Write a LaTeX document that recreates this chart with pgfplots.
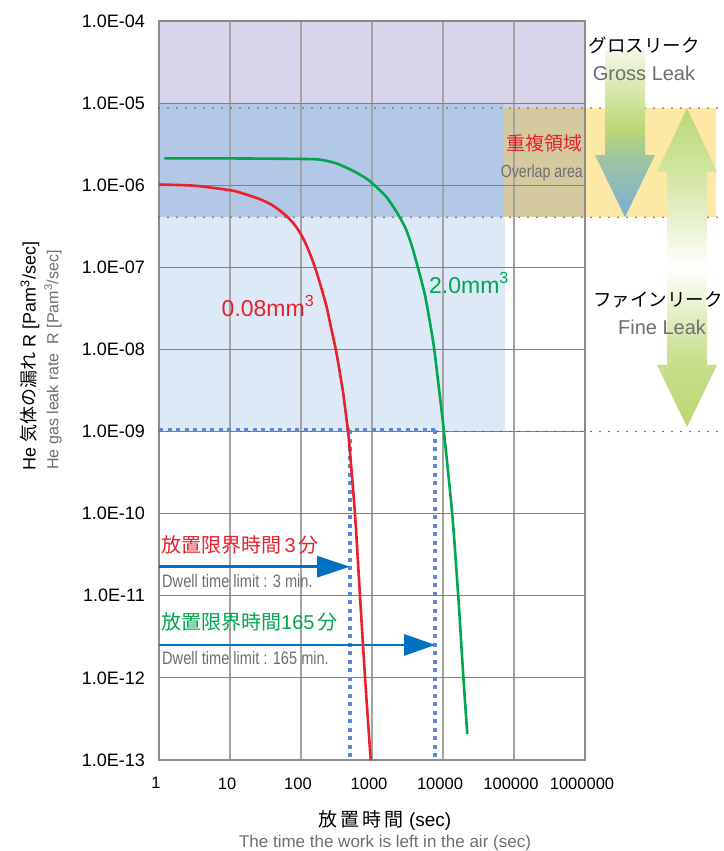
\documentclass[border=0pt]{standalone}
\usepackage{pgfplots}
\pgfplotsset{compat=1.18}
\usepackage{fontspec}
\setmainfont{Liberation Sans}
\newfontfamily\cjk{Noto Sans CJK JP}
\newfontfamily\narrow[FakeStretch=0.81]{Liberation Sans}
\usetikzlibrary{arrows.meta}
\definecolor{cred}{HTML}{E8212B}
\definecolor{cgreen}{HTML}{00A650}
\definecolor{tgray}{HTML}{6D6E71}
\definecolor{gridgray}{HTML}{8C8C8C}
\definecolor{bandpurple}{HTML}{D8D4E9}
\definecolor{bandblue}{HTML}{B3C7E6}
\definecolor{bandlight}{HTML}{DEE9F8}
\definecolor{bandtan}{HTML}{D5C9A0}
\definecolor{bandyellow}{HTML}{FDE9A6}
\definecolor{dotblue}{HTML}{5B88CF}
\definecolor{arrowblue}{HTML}{0070C0}
\definecolor{leafgreen}{HTML}{BCD773}
\definecolor{tipblue}{HTML}{78AFD8}
\definecolor{headgray}{HTML}{A2C79C}
\pgfdeclareverticalshading{grossshade}{100bp}{color(0bp)=(tipblue); color(25bp)=(tipblue); color(44bp)=(headgray); color(51bp)=(leafgreen); color(75bp)=(leafgreen!18); color(100bp)=(leafgreen!18)}
\pgfdeclareverticalshading{fineshade}{100bp}{color(0bp)=(leafgreen); color(25bp)=(leafgreen); color(36bp)=(leafgreen!80); color(50bp)=(white); color(63bp)=(leafgreen!60); color(75bp)=(leafgreen); color(100bp)=(leafgreen)}
\newcommand{\fs}[1]{\fontsize{#1}{#1}\selectfont}
\begin{document}
\begin{tikzpicture}[x=1pt,y=1pt]
\begin{axis}[
  at={(159pt,91pt)}, anchor=south west,
  scale only axis, width=426pt, height=739pt,
  xmode=log, ymode=log,
  xmin=1, xmax=1e6, ymin=1e-13, ymax=1e-4,
  xtick={1,10,100,1000,10000,100000,1000000},
  xticklabels={1,10,100,1000,10000,100000,1000000},
  ytick={1e-13,1e-12,1e-11,1e-10,1e-9,1e-8,1e-7,1e-6,1e-5,1e-4},
  yticklabels={1.0E-13,1.0E-12,1.0E-11,1.0E-10,1.0E-09,1.0E-08,1.0E-07,1.0E-06,1.0E-05,1.0E-04},
  xminorticks=false, yminorticks=false,
  major tick length=0pt,
  grid=major,
  x grid style={draw=gridgray!80, line width=1.3pt},
  y grid style={draw=gridgray!110, line width=1.1pt},
  axis line style={draw=gridgray, line width=1.4pt},
  xticklabel style={font=\fs{16.5}, text=black, yshift=-14pt, xshift=-3pt},
  yticklabel style={font=\fs{18}, text=black, inner xsep=0pt, xshift=-14pt},
  clip=false, set layers,
]
\begin{pgfonlayer}{axis background}
  \fill[bandpurple] (axis cs:1,1e-5) rectangle (axis cs:1e6,1e-4);
  \fill[bandpurple!70!bandblue] (axis cs:73000,8.7e-6) rectangle (axis cs:1e6,1e-5);
  \fill[bandblue] (axis cs:1,4.07e-7) rectangle (axis cs:73000,1e-5);
  \fill[bandtan] (axis cs:73000,4.07e-7) rectangle (axis cs:1e6,8.7e-6);
  \fill[bandyellow] (axis cs:1e6,4.07e-7) rectangle (axis cs:7e7,8.7e-6);
  \fill[bandlight] (axis cs:1,1e-9) rectangle (axis cs:75000,4.07e-7);
\end{pgfonlayer}
% dotted reference lines
\draw[black!65, line width=1.8pt, line cap=round, dash pattern=on 0pt off 9pt] (axis cs:1,8.7e-6) -- (axis cs:8.7e7,8.7e-6);
\draw[black!65, line width=1.8pt, line cap=round, dash pattern=on 0pt off 9pt] (axis cs:1,4.07e-7) -- (axis cs:8.7e7,4.07e-7);
\draw[black!65, line width=1.8pt, line cap=round, dash pattern=on 0pt off 9pt] (axis cs:1,1e-9) -- (axis cs:8.7e7,1e-9);
% dwell time limits
\draw[dotblue, line width=4pt, dash pattern=on 4pt off 4.5pt] (axis cs:1,1.04e-9) -- (axis cs:7770,1.04e-9);
\draw[dotblue, line width=4pt, dash pattern=on 4pt off 4.5pt] (axis cs:490,1.04e-9) -- (axis cs:490,1e-13);
\draw[dotblue, line width=4pt, dash pattern=on 4pt off 4.5pt] (axis cs:7770,1.04e-9) -- (axis cs:7770,1e-13);
\draw[arrowblue, line width=2.7pt, -{Triangle[length=33pt,width=21pt]}] (axis cs:1,2.26e-11) -- (axis cs:490,2.26e-11);
\draw[arrowblue, line width=2.7pt, -{Triangle[length=31pt,width=21pt]}] (axis cs:1,2.52e-12) -- (axis cs:7770,2.52e-12);
% 0.08 mm3
\addplot[cred, line width=2.6pt, smooth, tension=0.4] coordinates {
 (1,1.02e-6) (3.21,9.86e-7) (10,8.69e-7) (13.8,8.15e-7) (26.5,6.75e-7) (40.7,5.62e-7)
 (62.9,4.19e-7) (82.3,3.25e-7) (100,2.52e-7) (117.6,1.91e-7) (138.3,1.36e-7)
 (162.6,9.19e-8) (185.2,6.38e-8) (230,3.28e-8) (264.7,1.85e-8) (311,9.7e-9)
 (354,5.1e-9) (394,2.88e-9) (440,1.36e-9) (474,7.77e-10) (577,9.7e-11)
 (678,9.8e-12) (800,9.7e-13) (959,1e-13)
};
% 2.0 mm3
\addplot[cgreen, line width=2.6pt, smooth, tension=0.4] coordinates {
 (1.19,2.12e-6) (10,2.12e-6) (96.8,2.09e-6) (185,2.05e-6) (318,1.84e-6) (546,1.49e-6)
 (841,1.20e-6) (1102,9.86e-7) (1610,7.14e-7) (2323,4.43e-7) (3013,2.91e-7)
 (3659,1.80e-7) (4233,1.15e-7) (4746,7.98e-8) (5576,4.56e-8) (6555,2.13e-8)
 (7470,1.06e-8) (8503,4.19e-9) (9376,2.07e-9) (10330,9.8e-10) (13520,9.7e-11)
 (16410,9.8e-12) (19430,9.7e-13) (21980,2.07e-13)
};
\end{axis}
% side arrows
\path[shading=grossshade] (605,801) -- (645,801) -- (645,696) -- (655,696) -- (625,634) -- (595,696) -- (605,696) -- cycle;
\path[shading=fineshade] (687,743) -- (717,679) -- (707,679) -- (707,486) -- (717,486) -- (687,424) -- (657,486) -- (667,486) -- (667,679) -- (657,679) -- cycle;
% side texts
\node[inner sep=0pt] at (644,806) {\cjk\fs{18.5}グロスリーク};
\node[inner sep=0pt, text=tgray] at (644,778) {\fs{20}Gross Leak};
\node[inner sep=0pt, anchor=west] at (593,551) {\cjk\fs{18.5}ファインリーク};
\node[inner sep=0pt, text=tgray] at (662,524) {\fs{20}Fine Leak};
\node[inner sep=0pt, anchor=east, text=cred] at (583,708) {\cjk\fs{19}重複領域};
\node[inner sep=0pt, anchor=east, text=tgray] at (583,678) {\narrow\fs{17.5}Overlap area};
% curve labels
\node[inner sep=0pt, text=cred] at (268,545) {\fs{23}0.08mm\textsuperscript{3}};
\node[inner sep=0pt, text=cgreen] at (469,568) {\fs{23}2.0mm\textsuperscript{3}};
% dwell labels
\node[inner sep=0pt, anchor=west, text=cred] at (161,306) {\fs{20}{\cjk 放置限界時間}\,3\,{\cjk 分}};
\node[inner sep=0pt, anchor=west, text=tgray] at (162,270) {\narrow\fs{18}Dwell time limit : 3 min.};
\node[inner sep=0pt, anchor=west, text=cgreen] at (161,229) {\fs{20}{\cjk 放置限界時間}165\,{\cjk 分}};
\node[inner sep=0pt, anchor=west, text=tgray] at (162,193) {\narrow\fs{18}Dwell time limit : 165 min.};
% axis titles
\node[inner sep=0pt, rotate=90] at (30,495) {\fs{18}He {\cjk 気体の漏れ} R [Pam\textsuperscript{3}/sec]};
\node[inner sep=0pt, rotate=90, text=tgray] at (53,491) {\fs{16}He gas leak rate\ \ R [Pam\textsuperscript{3}/sec]};
\node[inner sep=0pt] at (385,31) {\fs{19}{\cjk 放\hspace{3pt}置\hspace{3pt}時\hspace{3pt}間} (sec)};
\node[inner sep=0pt, text=tgray] at (385,8) {\fs{17}The time the work is left in the air (sec)};
\pgfresetboundingbox
\path (0,0) rectangle (723,851);
\end{tikzpicture}
\end{document}
